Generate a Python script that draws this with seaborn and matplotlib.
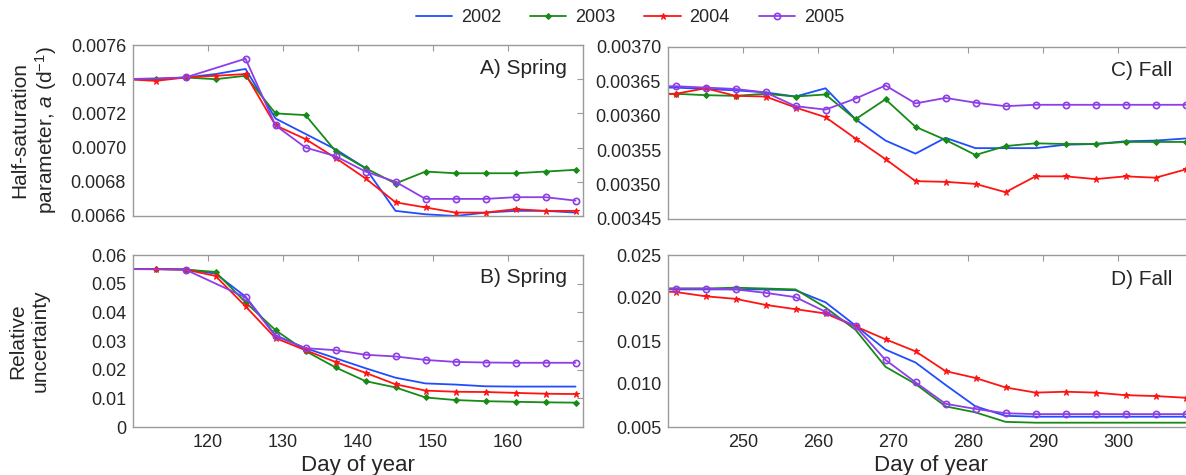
import matplotlib
matplotlib.use("Agg")
import matplotlib.pyplot as plt
import matplotlib.ticker as mticker
import seaborn as sns
import numpy as np

# ---- data ----
years = ["2002", "2003", "2004", "2005"]

spring_days = [109, 113, 117, 121, 125, 129, 133, 137, 141, 145, 149, 153, 157, 161, 165, 169]
spring_days_2005 = [109, 117, 125, 129, 133, 137, 141, 145, 149, 153, 157, 161, 165, 169]
fall_days = [237, 241, 245, 249, 253, 257, 261, 265, 269, 273, 277, 281, 285, 289, 293, 297, 301, 305, 309]

# A) half-saturation parameter, spring
a_spring_2002 = [0.00740, 0.00740, 0.00741, 0.00743, 0.00746, 0.00717, 0.00708, 0.00699, 0.00688, 0.00663,
                 0.00661, 0.00660, 0.00662, 0.00663, 0.00663, 0.00662]
a_spring_2003 = [0.00740, 0.00740, 0.00741, 0.00740, 0.00742, 0.00720, 0.00719, 0.00698, 0.00688, 0.00679,
                 0.00686, 0.00685, 0.00685, 0.00685, 0.00686, 0.00687]
a_spring_2004 = [0.00740, 0.00739, 0.00741, 0.00742, 0.00743, 0.00713, 0.00705, 0.00694, 0.00682, 0.00668,
                 0.00665, 0.00662, 0.00662, 0.00664, 0.00663, 0.00663]
a_spring_2005 = [0.00740, 0.00741, 0.00752, 0.00713, 0.00700, 0.00695, 0.00686, 0.00680, 0.00670,
                 0.00670, 0.00670, 0.00671, 0.00671, 0.00669]

# B) relative uncertainty, spring
u_spring_2002 = [0.0551, 0.0551, 0.0550, 0.0535, 0.0455, 0.0320, 0.0275, 0.0240, 0.0205, 0.0172,
                 0.0152, 0.0148, 0.0142, 0.0141, 0.0141, 0.0141]
u_spring_2003 = [0.0551, 0.0551, 0.0549, 0.0541, 0.0435, 0.0338, 0.0265, 0.0208, 0.0160, 0.0138,
                 0.0103, 0.0094, 0.0090, 0.0088, 0.0086, 0.0085]
u_spring_2004 = [0.0551, 0.0551, 0.0549, 0.0527, 0.0421, 0.0310, 0.0268, 0.0227, 0.0189, 0.0149,
                 0.0127, 0.0123, 0.0122, 0.0119, 0.0116, 0.0115]
u_spring_2005 = [0.0551, 0.0549, 0.0452, 0.0317, 0.0275, 0.0268, 0.0252, 0.0246, 0.0234,
                 0.0227, 0.0225, 0.0224, 0.0224, 0.0224]

# C) half-saturation parameter, fall
a_fall_2002 = [0.003641, 0.003641, 0.003639, 0.003637, 0.003634, 0.003628, 0.003640, 0.003595, 0.003564, 0.003545,
               0.003568, 0.003553, 0.003553, 0.003553, 0.003558, 0.003559, 0.003563, 0.003564, 0.003567]
a_fall_2003 = [0.003632, 0.003632, 0.003630, 0.003629, 0.003632, 0.003628, 0.003631, 0.003595, 0.003624, 0.003584,
               0.003565, 0.003543, 0.003556, 0.003560, 0.003559, 0.003559, 0.003562, 0.003562, 0.003562]
a_fall_2004 = [0.003630, 0.003632, 0.003640, 0.003629, 0.003628, 0.003612, 0.003598, 0.003567, 0.003537, 0.003505,
               0.003504, 0.003501, 0.003489, 0.003512, 0.003512, 0.003508, 0.003512, 0.003510, 0.003522]
a_fall_2005 = [0.003643, 0.003643, 0.003641, 0.003639, 0.003634, 0.003614, 0.003609, 0.003625, 0.003644, 0.003618,
               0.003626, 0.003619, 0.003614, 0.003616, 0.003616, 0.003616, 0.003616, 0.003616, 0.003616]

# D) relative uncertainty, fall
u_fall_2002 = [0.0210, 0.0210, 0.0210, 0.0210, 0.0210, 0.0209, 0.0195, 0.0168, 0.0140, 0.0125,
               0.0099, 0.0074, 0.0063, 0.0062, 0.0062, 0.0062, 0.0062, 0.0062, 0.0062]
u_fall_2003 = [0.0211, 0.0211, 0.0211, 0.0212, 0.0211, 0.0210, 0.0189, 0.0163, 0.0120, 0.0100,
               0.0074, 0.0067, 0.0056, 0.0055, 0.0055, 0.0055, 0.0055, 0.0055, 0.0055]
u_fall_2004 = [0.0208, 0.0207, 0.0202, 0.0199, 0.0192, 0.0187, 0.0182, 0.0167, 0.0152, 0.0138,
               0.0115, 0.0107, 0.0096, 0.0090, 0.0091, 0.0090, 0.0087, 0.0086, 0.0084]
u_fall_2005 = [0.0211, 0.0211, 0.0211, 0.0210, 0.0206, 0.0201, 0.0184, 0.0167, 0.0128, 0.0102,
               0.0077, 0.0071, 0.0066, 0.0065, 0.0065, 0.0065, 0.0065, 0.0065, 0.0065]

spring_ticks = [120, 130, 140, 150, 160]
fall_ticks = [250, 260, 270, 280, 290, 300, 310]
fall_ticklabels = ["250", "260", "270", "280", "290", "300", ""]

# ---- styling ----
sns.set_style("white")
plt.rcParams["font.family"] = ["Liberation Sans", "DejaVu Sans"]
plt.rcParams["mathtext.fontset"] = "custom"
plt.rcParams["mathtext.rm"] = "Liberation Sans"
plt.rcParams["mathtext.it"] = "Liberation Sans:italic"

colors = {"2002": "#1f4dff", "2003": "#178a17", "2004": "#ff1414", "2005": "#8e3ee6"}
markers = {
    "2002": dict(marker=None),
    "2003": dict(marker="D", markersize=3),
    "2004": dict(marker="*", markersize=5),
    "2005": dict(marker="o", markersize=4.5, markerfacecolor="none", markeredgewidth=1.2),
}
SPINE = "#9a9a9a"


def draw(ax, days, vals, year, with_marker=True):
    kw = dict(markers[year]) if with_marker else dict(marker=None)
    kw["markeredgecolor"] = colors[year]
    sns.lineplot(x=days, y=vals, ax=ax, color=colors[year], linewidth=1.3,
                 sort=False, estimator=None, label=year, **kw)


def style_axes(ax, xlim, xticks, ylim, yticks, yfmt, xlabels):
    ax.set_xlim(*xlim)
    ax.set_ylim(*ylim)
    ax.set_xticks(xticks)
    ax.set_yticks(yticks)
    ax.yaxis.set_major_formatter(mticker.FuncFormatter(yfmt))
    ax.tick_params(direction="in", top=True, right=True, length=4, width=0.8,
                   color=SPINE, labelsize=13, pad=5)
    if xlabels is None:
        ax.set_xticklabels([])
    else:
        ax.set_xticklabels(xlabels)
    for s in ax.spines.values():
        s.set_color(SPINE)
        s.set_linewidth(1.0)
    if ax.get_legend() is not None:
        ax.get_legend().remove()


W, H = 1186, 475
fig = plt.figure(figsize=(W / 100, H / 100), dpi=100)

def box(x0, y0, x1, y1):
    return [x0 / W, 1 - y1 / H, (x1 - x0) / W, (y1 - y0) / H]

axA = fig.add_axes(box(133, 45, 583, 216))
axC = fig.add_axes(box(668, 47, 1193, 219))
axB = fig.add_axes(box(133, 255, 583, 427))
axD = fig.add_axes(box(668, 255, 1193, 427))

# A
draw(axA, spring_days, a_spring_2002, "2002")
draw(axA, spring_days, a_spring_2003, "2003")
draw(axA, spring_days, a_spring_2004, "2004")
draw(axA, spring_days_2005, a_spring_2005, "2005")
handles, labels = axA.get_legend_handles_labels()

# B
draw(axB, spring_days, u_spring_2002, "2002")
draw(axB, spring_days, u_spring_2003, "2003")
draw(axB, spring_days, u_spring_2004, "2004")
draw(axB, spring_days_2005, u_spring_2005, "2005")

# C
draw(axC, fall_days, a_fall_2002, "2002")
draw(axC, fall_days, a_fall_2003, "2003")
draw(axC, fall_days, a_fall_2004, "2004")
draw(axC, fall_days, a_fall_2005, "2005")

# D
draw(axD, fall_days, u_fall_2002, "2002")
draw(axD, fall_days, u_fall_2003, "2003", with_marker=False)
draw(axD, fall_days, u_fall_2004, "2004")
draw(axD, fall_days, u_fall_2005, "2005")

style_axes(axA, (110, 170), spring_ticks, (0.0066, 0.0076),
           np.arange(0.0066, 0.00761, 0.0002), lambda v, p: f"{v:.4f}", None)
style_axes(axB, (110, 170), spring_ticks, (0, 0.06),
           np.arange(0, 0.0601, 0.01), lambda v, p: "0" if abs(v) < 1e-9 else f"{v:.2f}",
           [str(t) for t in spring_ticks])
style_axes(axC, (240, 310), fall_ticks, (0.00345, 0.00370),
           np.arange(0.00345, 0.003701, 0.00005), lambda v, p: f"{v:.5f}", None)
style_axes(axD, (240, 310), fall_ticks, (0.005, 0.025),
           np.arange(0.005, 0.02501, 0.005), lambda v, p: f"{v:.3f}", fall_ticklabels)

for ax in (axB, axD):
    ax.set_xlabel("Day of year", fontsize=16, labelpad=3)

axA.set_ylabel("Half-saturation\nparameter, $a$ (d$^{-1}$)", fontsize=15, labelpad=8)
axB.set_ylabel("Relative\nuncertainty", fontsize=15, labelpad=30)

panel_txt = [(axA, "A) Spring", 0.865), (axB, "B) Spring", 0.872),
             (axC, "C) Fall", 0.866), (axD, "D) Fall", 0.855)]
for ax, txt, yy in panel_txt:
    xx = 0.964 if ax in (axA, axB) else 0.96
    ax.text(xx, yy, txt, transform=ax.transAxes, ha="right", va="center", fontsize=15)

fig.legend(handles, labels, loc="center", bbox_to_anchor=(630 / W, 1 - 18 / H), ncol=4,
           frameon=False, fontsize=13, handlelength=2.0, columnspacing=1.6, handletextpad=0.5)

fig.savefig("out.png", dpi=100)
